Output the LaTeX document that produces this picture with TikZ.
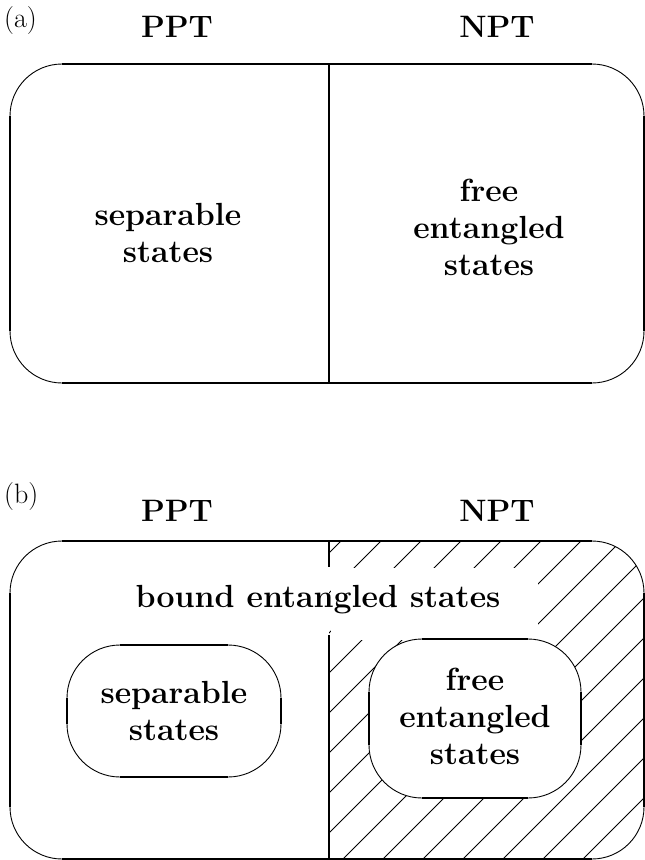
\documentclass[tikz,border=0pt]{standalone}
\begin{document}
\begin{tikzpicture}[x=1pt,y=-1pt,
  thickline/.style={line width=2pt},
  thinline/.style={line width=0.9pt},
  hatchline/.style={line width=0.8pt},
  lbl/.style={font=\fontsize{32}{37}\selectfont\bfseries, align=center, inner sep=0pt},
  head/.style={font=\fontsize{31}{37}\selectfont\bfseries, inner sep=0pt},
  tag/.style={font=\fontsize{28}{33}\selectfont, inner sep=0pt}]
\useasboundingbox (0,0) rectangle (645,860);

% ---------- panel (a) ----------
\node[tag, anchor=base west] (taga) at (4,27) {(a)};
\node[head, anchor=base] (ppta) at (177,37) {PPT};
\node[head, anchor=base] (npta) at (497,37) {NPT};
\draw[thinline, rounded corners=52] (10,64) rectangle (644,383);
\draw[thickline] (62,64) -- (592,64);
\draw[thickline] (62,383) -- (592,383);
\draw[thickline] (10,116) -- (10,331);
\draw[thickline] (644,116) -- (644,331);
\draw[thickline] (329,64) -- (329,383);
\node[lbl] (sepa) at (168,233) {separable\\states};
\node[lbl] (freea) at (489,227) {free\\entangled\\states};

% ---------- panel (b) ----------
\node[tag, anchor=base west] (tagb) at (4,503) {(b)};
\node[head, anchor=base] (pptb) at (177,521) {PPT};
\node[head, anchor=base] (nptb) at (497,521) {NPT};

% hatching of the NPT part
\begin{scope}
  \clip (329,541) rectangle (645,860);
  \clip[rounded corners=52] (10,541) rectangle (644,859);
  \foreach \c in {882,922,...,1522}
    \draw[hatchline] (\c-900,900) -- (\c-480,480);
\end{scope}
% keep the label band and the inner box free of hatching
\fill[white] (331,568) rectangle (538,640);
\fill[white, rounded corners=53] (369,639) rectangle (581,798);

\draw[thinline, rounded corners=52] (10,541) rectangle (644,859);
\draw[thickline] (62,541) -- (592,541);
\draw[thickline] (62,859) -- (592,859);
\draw[thickline] (10,593) -- (10,807);
\draw[thickline] (644,593) -- (644,807);
\draw[thickline] (329,541) -- (329,567);
\draw[thickline] (329,635) -- (329,859);
\node[lbl, anchor=base] (bound) at (318,607) {bound entangled states};

% separable box
\draw[thinline, rounded corners=53] (67,645) rectangle (281,777);
\draw[thickline] (120,645) -- (228,645);
\draw[thickline] (120,777) -- (228,777);
\draw[thickline] (67,698) -- (67,724);
\draw[thickline] (281,698) -- (281,724);
\node[lbl] (sepb) at (174,711) {separable\\states};

% free entangled box
\draw[thinline, rounded corners=53] (369,639) rectangle (581,798);
\draw[thickline] (422,639) -- (528,639);
\draw[thickline] (422,798) -- (528,798);
\draw[thickline] (369,692) -- (369,745);
\draw[thickline] (581,692) -- (581,745);
\node[lbl] (freeb) at (475,716) {free\\entangled\\states};
\end{tikzpicture}
\end{document}
